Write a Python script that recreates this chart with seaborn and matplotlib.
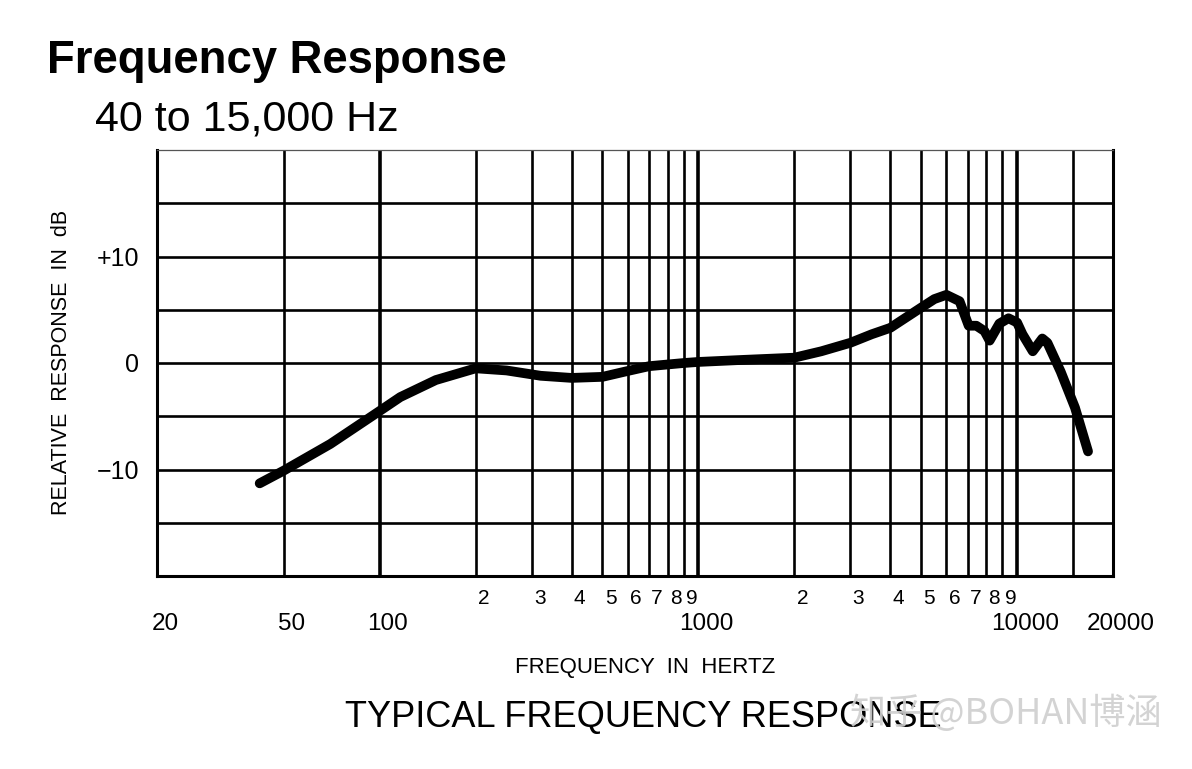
import numpy as np
import pandas as pd
import seaborn as sns
import matplotlib.pyplot as plt
import matplotlib.transforms as mtransforms


# ---------------------------
# Data
# ---------------------------

freq_hz = [42, 50, 70, 100, 116, 150, 200, 250, 320, 400, 500, 590, 700, 900,
           1000, 1400, 2000, 2430, 3000, 3500, 4000, 5000, 5500, 6000, 6600,
           7050, 7450, 7900, 8200, 8800, 9400, 10000, 10400, 11200, 12000,
           12450, 13700, 15200, 16700]
response_db = [-11.3, -10.1, -7.6, -4.5, -3.2, -1.6, -0.5, -0.7, -1.2, -1.4,
               -1.3, -0.8, -0.3, 0.0, 0.1, 0.3, 0.5, 1.1, 1.9, 2.7, 3.3, 5.2,
               6.0, 6.4, 5.8, 3.5, 3.5, 3.0, 2.1, 3.7, 4.2, 3.8, 2.7, 1.1, 2.3,
               1.9, -0.8, -4.2, -8.3]

major_freqs = [20, 50, 100, 1000, 10000, 20000]
major_labels = ["20", "50", "100", "1000", "10000", "20000"]
minor_freqs = [200, 300, 400, 500, 600, 700, 800, 900,
               2000, 3000, 4000, 5000, 6000, 7000, 8000, 9000]
minor_labels = ["2", "3", "4", "5", "6", "7", "8", "9"] * 2
grid_freqs = [50, 100, 200, 300, 400, 500, 600, 700, 800, 900, 1000,
              2000, 3000, 4000, 5000, 6000, 7000, 8000, 9000, 10000, 15000]
decade_freqs = [100, 1000, 10000]

db_ticks = [-20, -15, -10, -5, 0, 5, 10, 15, 20]
db_labels = ["", "", "\u221210", "", "0", "", "+10", "", ""]

df = pd.DataFrame({"freq": freq_hz, "db": response_db})


# ---------------------------
# Style
# ---------------------------

sns.set_style("white")
plt.rcParams["font.family"] = ["Liberation Sans", "DejaVu Sans"]
plt.rcParams["text.color"] = "black"
plt.rcParams["xtick.color"] = "black"
plt.rcParams["ytick.color"] = "black"

fig = plt.figure(figsize=(11.92, 7.69), dpi=100)
ax = fig.add_axes([157 / 1192, 1 - 576 / 769, 956 / 1192, 426 / 769])

ax.set_xscale("log")
ax.set_xlim(20, 20000)
ax.set_ylim(-20, 20)

# grid
for f in grid_freqs:
    lw = 2.6 if f in decade_freqs else 1.9
    ax.axvline(f, color="black", lw=lw, zorder=1)
for d in db_ticks[1:-1]:
    ax.axhline(d, color="black", lw=1.9, zorder=1)

# curve
sns.lineplot(data=df, x="freq", y="db", ax=ax, color="black", lw=7,
             solid_capstyle="round", solid_joinstyle="round", zorder=3,
             sort=False)
ax.set_xlabel("")
ax.set_ylabel("")

# spines
for side in ["left", "bottom", "right"]:
    ax.spines[side].set_linewidth(2.2)
    ax.spines[side].set_color("black")
ax.spines["top"].set_linewidth(0.9)
ax.spines["top"].set_color("#555555")

# ticks
ax.set_yticks(db_ticks, labels=db_labels)
ax.tick_params(axis="y", length=0, pad=13, labelsize=18)

ax.set_xticks(major_freqs, labels=major_labels)
ax.set_xticks(minor_freqs, labels=minor_labels, minor=True)
ax.tick_params(axis="x", which="major", length=0, pad=27, labelsize=17.5)
ax.tick_params(axis="x", which="minor", length=0, pad=9, labelsize=15)

shift = mtransforms.ScaledTranslation(8 / 100, 0, fig.dpi_scale_trans)
for lab in ax.get_xticklabels(which="both"):
    lab.set_transform(lab.get_transform() + shift)


# ---------------------------
# Texts
# ---------------------------

fig.text(47 / 1192, 1 - 73 / 769, "Frequency Response", fontsize=32.8,
         fontweight="bold", ha="left", va="baseline")
fig.text(95 / 1192, 1 - 130 / 769, "40 to 15,000 Hz", fontsize=31,
         ha="left", va="baseline")
fig.text(62 / 1192, 1 - 362 / 769, "RELATIVE  RESPONSE  IN  dB",
         fontsize=15.5, rotation=90, ha="center", va="center")
fig.text(645 / 1192, 1 - 668 / 769, "FREQUENCY  IN  HERTZ", fontsize=16,
         ha="center", va="center")
fig.text(345 / 1192, 1 - 727 / 769, "TYPICAL FREQUENCY RESPONSE",
         fontsize=26, ha="left", va="baseline")
fig.text(850 / 1192, 1 - 713 / 769, "知乎 @BOHAN博涵", fontsize=26,
         family=["Noto Sans CJK SC", "DejaVu Sans"], color="#cfcfcf",
         alpha=0.9, ha="left", va="center", zorder=5)

fig.savefig("out.png", dpi=100)
